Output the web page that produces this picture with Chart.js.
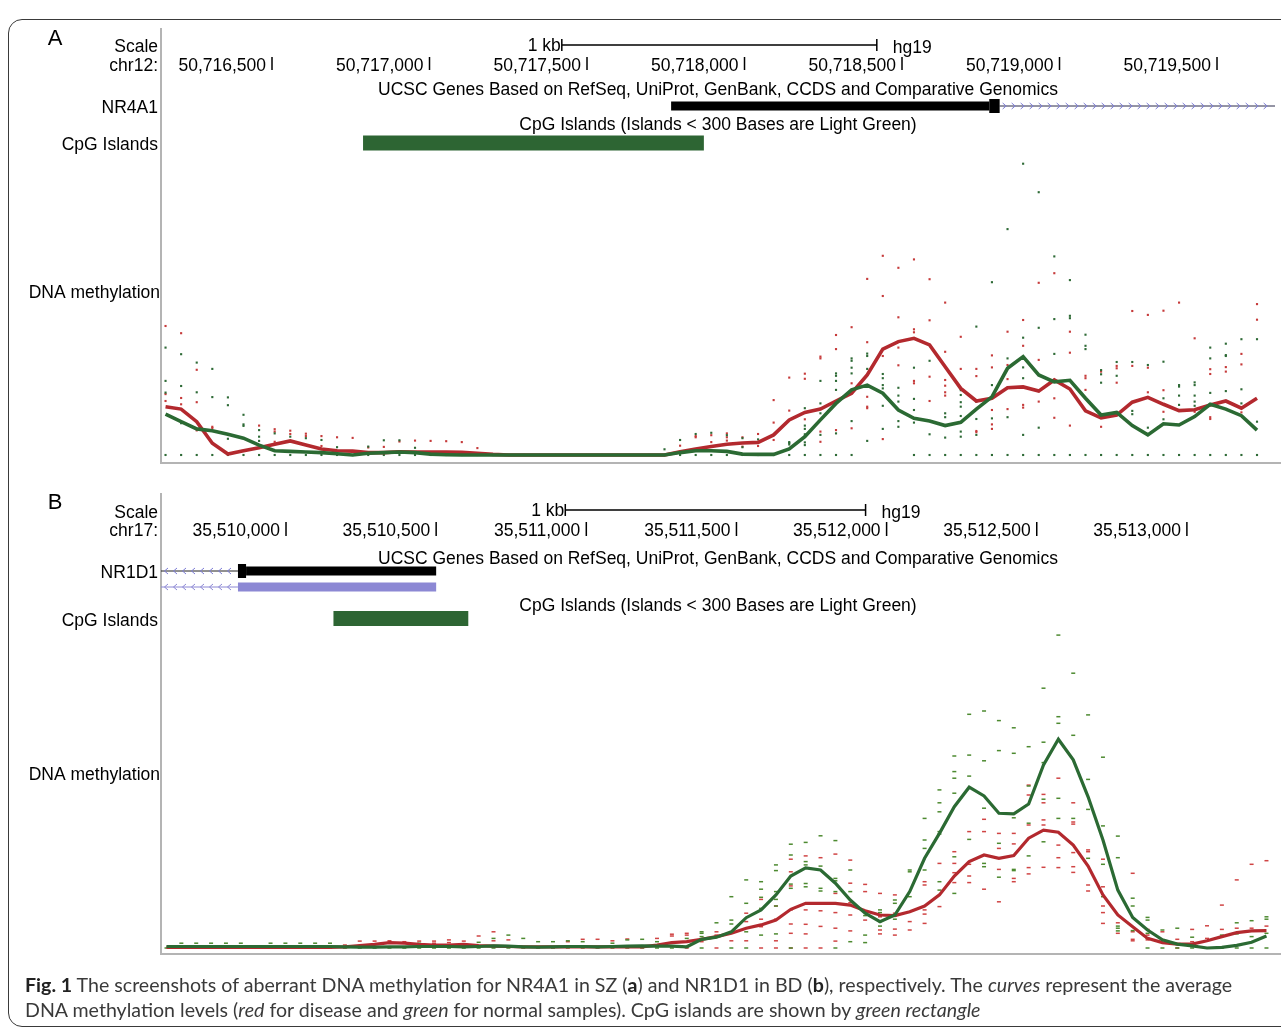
<!DOCTYPE html>
<html>
<head>
<meta charset="utf-8">
<script src="https://cdn.jsdelivr.net/npm/chart.js@4.4.1/dist/chart.umd.min.js"></script>
<style>
  html, body { margin: 0; padding: 0; background: #fff; }
  body { width: 1281px; height: 1029px; position: relative; overflow: hidden; }
  #frame { position: absolute; left: 8px; top: 19px; width: 1300px; height: 1008px;
           border: 1.5px solid #3a3a3a; border-radius: 14px; box-sizing: border-box; }
  canvas { position: absolute; left: 0; top: 0; }
  #caption { position: absolute; left: 25px; top: 972px; width: 1250px;
             font-family: Lato, "Liberation Sans", sans-serif; font-size: 19.6px;
             line-height: 25px; color: #3a3a3a; white-space: nowrap; }
  #caption b { color: #222; }
</style>
</head>
<body>
<div id="frame"></div>
<canvas id="panelA" width="1281" height="1029" style="width:1281px;height:1029px"></canvas>
<canvas id="panelB" width="1281" height="1029" style="width:1281px;height:1029px"></canvas>
<div id="caption"><b>Fig. 1</b> The screenshots of aberrant DNA methylation for NR4A1 in SZ (<b>a</b>) and NR1D1 in BD (<b>b</b>), respectively. The <i>curves</i> represent the average<br>DNA methylation levels (<i>red</i> for disease and <i>green</i> for normal samples). CpG islands are shown by <i>green rectangle</i></div>

<script>
// ---------------- Panel A: NR4A1, chr12 ----------------
const aWindow = [50716147.6, 50719684.1];          // visible genomic window (bp)
const aTickPositions = [50716500, 50717000, 50717500, 50718000, 50718500, 50719000, 50719500];
const aTickLabels = ['50,716,500', '50,717,000', '50,717,500', '50,718,000', '50,718,500', '50,719,000', '50,719,500'];
const aScaleBar = [50717420, 50718420];            // 1 kb
const aCpgIsland = [50716789, 50717871];
const aGeneNarrow = [50717767, 50718777];          // NR4A1 narrow exon block
const aGeneWide = [50718777, 50718810];            // NR4A1 full-height block
const aGeneIntron = [50718810, 50719760];          // continues beyond the window (+ strand)
const aBinStart = 50716162;                        // first methylation bin
const aBinStep = 49.5;

// mean methylation per bin: disease (red) and normal (green)
const aRedMean = [0.161,0.153,0.111,0.039,0.003,0.014,0.024,0.036,0.047,0.033,
  0.020,0.014,0.013,0.008,0.008,0.011,0.010,0.010,0.010,0.009,
  0.006,0.002,0,0,0,0,0,0,0,0,
  0,0,0,0.011,0.020,0.028,0.036,0.040,0.042,0.067,
  0.117,0.142,0.153,0.180,0.206,0.267,0.353,0.378,0.389,0.367,
  0.294,0.222,0.180,0.189,0.224,0.227,0.213,0.250,0.220,0.147,
  0.124,0.133,0.176,0.192,0.169,0.148,0.151,0.167,0.180,0.156,
  0.189];
const aGreenMean = [0.136,0.111,0.087,0.081,0.069,0.056,0.033,0.014,0.012,0.010,
  0.008,0.004,0,0.006,0.008,0.010,0.008,0.003,0.001,0,
  0,0,0,0,0,0,0,0,0,0,
  0,0,0,0.008,0.014,0.014,0.012,0.003,0.002,0.002,
  0.020,0.061,0.117,0.172,0.217,0.233,0.206,0.150,0.122,0.113,
  0.098,0.109,0.153,0.194,0.289,0.328,0.267,0.244,0.249,0.189,
  0.133,0.142,0.098,0.067,0.104,0.100,0.128,0.169,0.153,0.131,
  0.083];

// individual samples per bin
const aRedSamples = [
  [0.43,0.203,0.18],[0.406,0.19,0.169],[0.284,0.176,0.082],[0.094,0.09],[],[],[0.098],
  [0.086,0.078,0.044],[0.081,0.07,0.044],[0.071,0.063],
  [0.063,0.03],[0.059],[0.057],[0.025],[0.027],[0.045],[0.048],[0.047],[0.046],[0.043],
  [0.023],[],[],[],[],[],[],[],[],[],
  [],[],[],[0.031],[0.063,0.059],[0.066,0.043],[0.072,0.059,0.048],[0.059,0.028],[0.07,0.03],[0.183,0.108,0.05],
  [0.258,0.148],[0.271,0.254,0.119],[0.328,0.322,0.078,0.044],[0.40,0.353,0.083],[0.426,0.239,0.089],
  [0.587,0.376,0.194,0.161,0.156],[0.664,0.53,0.33,0.053],[0.624,0.459,0.358,0.299],
  [0.652,0.419,0.409,0.247,0.239],[0.586,0.449,0.261,0.18],
  [0.508,0.344,0.25,0.231,0.209,0.198],[0.394,0.287],[0.287,0.263,0.08,0.076],[0.332,0.292,0.15,0.102,0.087],
  [0.411,0.3,0.253,0.153],[0.45,0.364,0.167,0.158],[0.574,0.317,0.178],[0.606,0.25,0.189,0.124],
  [0.411,0.341,0.098],[0.264,0.256,0.217],
  [0.278,0.094],[0.297,0.289,0.241],[0.48,0.297],[0.467,0.291,0.209],[0.481,0.216,0.144],[0.508],
  [0.389,0.144],[0.286,0.27,0.126,0.12],[0.293,0.278],[0.337,0.302,0.142],
  [0.503,0.451]
];
const aGreenSamples = [
  [0.358,0.247,0.208,0],[0.336,0.23,0.106,0],[0.308,0.209,0],[0.287,0.193,0],[0.192,0.166,0.054,0],
  [0.134,0.102,0.097,0],[0.083,0.061,0.047,0],[0.072,0],[0.061,0],[0.056,0],
  [0.05,0],[0.026,0],[0],[0.028,0],[0.049,0],[0.049,0],[0.024,0],[0],[0],[0],
  [0],[0],[0],[0],[0],[0],[0],[0],[0],[0],
  [0],[0],[0.019,0],[0.05,0],[0.07,0],[0.074,0],[0.066,0],[0.056,0.026,0],[0.052,0],[0],
  [0.043,0.04,0.035,0],[0.156,0.098,0.087,0.069,0.042,0.033,0],[0.247,0.172,0.139,0.067,0],
  [0.272,0.264,0.247,0.217,0.072,0],[0.322,0.314,0.291,0.272,0.113,0],[0.338,0.33,0.287,0.047],
  [0.27,0.256,0.233,0.222,0.164,0.087],[0.224,0.198,0.178,0.113,0.094],[0.291,0.187,0.15,0.108,0],[0.314,0.069,0],
  [0.139,0.126,0.058,0],[0.216,0.2,0.176,0.161,0.13,0.078,0.061,0],[0.428,0.178,0.12,0.067,0],
  [0.576,0.233,0.122,0],[0.753,0.322,0.126,0],[0.971,0.391,0.292,0.256,0.067,0],[0.876,0.424,0.213,0.091,0],
  [0.662,0.453,0.337,0],[0.583,0.464,0.456,0],[0.401,0.364,0.353,0],
  [0.283,0.269,0.241,0],[0.31,0.264,0],[0.31,0.147,0.136,0],[0.3,0.091,0],[0.311,0.189,0.119,0],
  [0.233,0.228,0.198,0.167,0],[0.242,0.233,0.198,0.178,0.164,0],[0.358,0.322,0.207,0],
  [0.371,0.333,0.33,0.213,0],[0.386,0.219,0.172,0],
  [0.386,0.111,0]
];

// ---------------- Panel B: NR1D1, chr17 ----------------
const bWindow = [35509583.7, 35513293.4];
const bTickPositions = [35510000, 35510500, 35511000, 35511500, 35512000, 35512500, 35513000];
const bTickLabels = ['35,510,000', '35,510,500', '35,511,000', '35,511,500', '35,512,000', '35,512,500', '35,513,000'];
const bScaleBar = [35510930, 35511930];
const bCpgIsland = [35510158, 35510607];
const bGeneIntron = [35509400, 35509840];          // - strand, continues to the left
const bGeneWide = [35509840, 35509867];
const bGeneNarrow = [35509867, 35510500];
const bAltIntron = [35509400, 35509840];           // second transcript
const bAltBlock = [35509840, 35510500];
const bBinStart = 35509602;
const bBinStep = 49.5;

const bRedMean = [0.002,0.002,0.002,0.002,0.002,0.002,0.002,0.002,0.002,0.002,
  0.002,0.002,0.004,0.008,0.012,0.018,0.016,0.012,0.010,0.010,
  0.012,0.008,0.006,0.005,0.004,0.004,0.004,0.004,0.004,0.004,
  0.004,0.004,0.004,0.010,0.018,0.021,0.029,0.038,0.049,0.066,
  0.077,0.093,0.129,0.149,0.149,0.149,0.143,0.124,0.110,0.108,
  0.121,0.140,0.177,0.240,0.288,0.310,0.299,0.308,0.366,0.393,
  0.386,0.343,0.273,0.177,0.110,0.071,0.032,0.018,0.013,0.013,
  0.024,0.038,0.051,0.057,0.058];
const bGreenMean = [0.005,0.005,0.005,0.005,0.005,0.005,0.005,0.005,0.005,0.005,
  0.005,0.005,0.004,0.003,0.003,0.004,0.004,0.005,0.005,0.005,
  0.004,0.005,0.007,0.006,0.004,0.003,0.004,0.005,0.005,0.004,
  0.005,0.006,0.007,0.006,0.006,0.004,0.029,0.036,0.054,0.101,
  0.127,0.177,0.240,0.267,0.260,0.216,0.160,0.116,0.088,0.110,
  0.188,0.299,0.382,0.471,0.536,0.507,0.449,0.447,0.480,0.610,
  0.696,0.627,0.504,0.360,0.193,0.102,0.060,0.027,0.013,0.007,
  0.000,0.002,0.009,0.019,0.040];

const bRedSamples = [
  [],[],[],[],[],[],[],[],[],[],[],[],
  [0.01],[0.023],[0.023],[0.024,0.018],[0.021],[0.023],[0.023,0.016],[0.027,0.018],
  [0.023],[0.04],[0.054,0.024],[0.027],[],[],[],[0.021],[0.029],[0.029],
  [0.024],[0.03],[],[0.032],[0.046,0.04],[0.049,0.043,0],[0.021],[0.054,0.043,0],[0.054,0.024],[0.116,0.088,0.024],
  [0.162,0.096,0.071,0],[0.14,0.096,0.024,0],[0.296,0.254,0.207,0.127,0.08,0.049,0],[0.307,0.127,0.079,0.047,0],
  [0.301,0.124,0.072,0],[0.313,0.182,0.118,0.066,0.023],[0.293,0.216,0.151,0.11,0.057],[0.212,0.188,0.093],
  [0.182,0.104,0.06,0.047],[0.177,0.116,0.063,0.043],
  [0.088,0.06],[0.221,0.21,0.127,0.113,0.082],[0.282,0.138],[0.321,0.282,0.251,0.218],[0.388,0.279,0.24,0.218],
  [0.429,0.388,0.196],[0.382,0.332,0.262,0.154],[0.382,0.347,0.232,0.221],[0.543,0.51,0.41,0.268,0.247],
  [0.512,0.484,0.427,0.41,0.269],
  [0.566,0.343,0.301,0.268],[0.484,0.42,0.413,0.318,0.271,0.252],[0.327,0.321,0.21,0.19],
  [0.296,0.204,0.14,0.118,0.082],[0.084,0.049],[0.249,0.054,0.029,0.024],[0.062,0.043,0.027],
  [0.054,0.027],[0.029,0],[0.062,0.021],
  [0.074,0.032],[0.143,0.062],[0.227,0.066],[0.279,0.066],[0.291,0.073]
];
const bGreenSamples = [
  [0],[0.016,0],[0.016,0],[0.016,0],[0.016,0],[0.016,0],[0],[0.016,0],[0.016,0],[0.016,0],
  [0.016,0],[0.016,0],[0],[0],[0],[0],[0],[0.016,0],[0],[0],
  [0],[0.019,0],[0.032,0],[0.043,0],[0.032,0],[0.021,0],[0.021,0],[0.024,0],[0.021,0],[0],
  [0.016,0],[0.027,0],[0.029,0],[0.021,0],[0.018,0],[0.032],[0.054,0.049,0.038,0],[0.084,0.036],
  [0.171,0.093,0.08,0],[0.227,0.149,0.054,0],
  [0.221,0.196,0.169,0.132,0.043],[0.277,0.258,0.188,0.162,0.14,0.047],[0.346,0.31,0.213,0.199,0],
  [0.352,0.288,0.277,0.215,0.204],[0.374,0.273,0.199,0.19],[0.358,0.232,0.224,0.188,0],[0.26,0.188,0.021],
  [0.108,0.043,0.018],[0.127,0.118,0.088,0.073],[0.16,0.149,0.107,0.096],
  [0.26,0.254,0.171],[0.432,0.36,0.332,0.26],[0.527,0.484,0.454,0.388,0.38,0.221,0.193],
  [0.64,0.588,0.566,0.516,0.304,0.182],[0.779,0.643,0.573,0.362],[0.79,0.624,0.466,0.282,0.271],
  [0.758,0.658,0.349,0.236],[0.734,0.649,0.434,0.262,0.258],[0.671,0.54,0.416,0.307],[0.866,0.686,0.618,0.496,0.354],
  [1.043,0.771,0.749,0.499,0.432],[0.916,0.709,0.432],[0.777,0.562,0.462,0.299],[0.636,0.407,0.279,0.171],
  [0.373,0.301,0.073,0.066,0.057],[0.166,0.14,0.058],[0.102,0.093,0.049,0.032,0],[0.06,0],[0.066,0],[0.036,0],
  [0],[0.043,0],[0.084,0.047,0],[0.091,0.038,0],[0.104,0.096,0.049,0]
];

// ---------------- drawing helpers ----------------
const FONT = '17.5px "Liberation Sans", Arial, Helvetica, sans-serif';
const LETTER_FONT = '22px "Liberation Sans", Arial, Helvetica, sans-serif';
const RED_LINE = '#b3292e', GREEN_LINE = '#2b6a33';

function meanPoints(start, step, values) {
  return values.map((v, i) => ({ x: start + i * step, y: v }));
}
function samplePoints(start, step, bins) {
  const pts = [];
  bins.forEach((vals, i) => vals.forEach(v => pts.push({ x: start + i * step, y: v })));
  return pts;
}

function chevrons(ctx, x0, x1, y, dir, color) {
  ctx.save();
  ctx.strokeStyle = color; ctx.lineWidth = 1;
  for (let x = x0 + 5; x < x1 - 2; x += 9) {
    ctx.beginPath();
    ctx.moveTo(x - 2 * dir, y - 3); ctx.lineTo(x + 1.5 * dir, y); ctx.lineTo(x - 2 * dir, y + 3);
    ctx.stroke();
  }
  ctx.restore();
}

function makeTrackPlugin(t) {
  return {
    id: 'ucscTrack',
    beforeDatasetsDraw(chart) {
      const { ctx, chartArea: a } = chart;
      ctx.save();
      ctx.strokeStyle = '#b4b4b4'; ctx.lineWidth = 2;
      ctx.beginPath();
      ctx.moveTo(a.left, t.L.sepTop); ctx.lineTo(a.left, a.bottom + 1);
      ctx.moveTo(a.left, a.bottom); ctx.lineTo(chart.width, a.bottom);
      ctx.stroke();
      ctx.restore();
    },
    afterDraw(chart) {
      const { ctx, chartArea: a } = chart;
      const sx = chart.scales.x;
      const px = v => Math.max(a.left, Math.min(a.right, sx.getPixelForValue(v)));
      const L = t.L;
      ctx.save();
      ctx.fillStyle = '#000';
      ctx.textBaseline = 'middle';

      ctx.font = LETTER_FONT; ctx.textAlign = 'center';
      ctx.fillText(t.letter, 55, L.letterY + 2);

      ctx.font = FONT; ctx.textAlign = 'right';
      ctx.fillText('Scale', 158, L.scaleY + 1);
      ctx.fillText(t.chrom, 158, L.chrY + 1);
      ctx.fillText(t.gene, 158, L.geneLabelY + 1);
      ctx.fillText('CpG Islands', 158, L.cpgLabelY + 1);
      ctx.fillText('DNA methylation', 160, L.dnaLabelY + 1);

      // scale bar
      const b0 = px(t.scaleBar[0]), b1 = px(t.scaleBar[1]);
      ctx.fillText('1 kb', b0 - 1, L.barY + 1);
      ctx.textAlign = 'left';
      ctx.fillText('hg19', b1 + 16, L.barY + 3);
      ctx.strokeStyle = '#000'; ctx.lineWidth = 1.5;
      ctx.beginPath();
      ctx.moveTo(b0, L.barY); ctx.lineTo(b1, L.barY);
      ctx.moveTo(b0, L.barY - 6); ctx.lineTo(b0, L.barY + 6);
      ctx.moveTo(b1, L.barY - 6); ctx.lineTo(b1, L.barY + 6);
      ctx.stroke();

      // coordinate ruler
      ctx.textAlign = 'right';
      t.ticks.forEach((g, i) => {
        const x = px(g);
        ctx.fillText(t.tickLabels[i], x - 6, L.chrY + 1);
        ctx.beginPath(); ctx.moveTo(x, L.tickTop); ctx.lineTo(x, L.tickBot); ctx.stroke();
      });

      // track captions
      ctx.textAlign = 'center';
      const cx = (a.left + a.right) / 2;
      ctx.fillText('UCSC Genes Based on RefSeq, UniProt, GenBank, CCDS and Comparative Genomics', cx, L.ucscY + 1);
      ctx.fillText('CpG Islands (Islands < 300 Bases are Light Green)', cx, L.cpgCapY + 1);

      // gene model
      t.drawGene(ctx, px, L);

      // CpG island
      ctx.fillStyle = '#2d6533';
      const c0 = px(t.cpg[0]), c1 = px(t.cpg[1]);
      ctx.fillRect(c0, L.cpgY - 7.5, c1 - c0, 15);
      ctx.restore();
    }
  };
}

function makeChart(id, t) {
  return new Chart(document.getElementById(id), {
    type: 'scatter',
    data: {
      datasets: [
        { label: 'normal mean', data: meanPoints(t.binStart, t.binStep, t.greenMean), showLine: true,
          borderColor: GREEN_LINE, borderWidth: t.lineWidth, pointRadius: 0, tension: 0, order: 0 },
        { label: 'disease mean', data: meanPoints(t.binStart, t.binStep, t.redMean), showLine: true,
          borderColor: RED_LINE, borderWidth: t.lineWidth, pointRadius: 0, tension: 0, order: 1 },
        { label: 'normal samples', data: samplePoints(t.binStart, t.binStep, t.greenSamples),
          pointStyle: t.dotStyle, pointRadius: t.dotRadius, pointBorderWidth: t.dotBorder,
          backgroundColor: t.greenDot, borderColor: t.greenDot, order: 2 },
        { label: 'disease samples', data: samplePoints(t.binStart, t.binStep, t.redSamples),
          pointStyle: t.dotStyle, pointRadius: t.dotRadius, pointBorderWidth: t.dotBorder,
          backgroundColor: t.redDot, borderColor: t.redDot, order: 3 }
      ]
    },
    options: {
      responsive: false, animation: false, devicePixelRatio: 1,
      layout: { padding: t.padding },
      scales: {
        x: { type: 'linear', min: t.window[0], max: t.window[1], display: false },
        y: { type: 'linear', min: t.yRange[0], max: t.yRange[1], display: false }
      },
      plugins: { legend: { display: false }, tooltip: { enabled: false } },
      events: []
    },
    plugins: [makeTrackPlugin(t)]
  });
}

makeChart('panelA', {
  letter: 'A', chrom: 'chr12:', gene: 'NR4A1',
  window: aWindow, ticks: aTickPositions, tickLabels: aTickLabels, scaleBar: aScaleBar, cpg: aCpgIsland,
  binStart: aBinStart, binStep: aBinStep,
  redMean: aRedMean, greenMean: aGreenMean, redSamples: aRedSamples, greenSamples: aGreenSamples,
  yRange: [-0.0267, 1.0067], padding: { left: 161, right: 6, top: 153, bottom: 566 },
  lineWidth: 3.6, dotStyle: 'rect', dotRadius: 1.5, dotBorder: 0,
  redDot: '#c63a3a', greenDot: '#2e6a36',
  L: { letterY: 37, scaleY: 46, chrY: 65, tickTop: 57, tickBot: 70, barY: 45, ucscY: 89,
       geneLabelY: 107, geneY: 106, cpgCapY: 124, cpgY: 143, cpgLabelY: 144, dnaLabelY: 292, sepTop: 28 },
  drawGene(ctx, px, L) {
    const i0 = px(aGeneIntron[0]), i1 = px(aGeneIntron[1]);
    ctx.strokeStyle = '#2a2a4a'; ctx.lineWidth = 1;
    ctx.beginPath(); ctx.moveTo(i0, L.geneY); ctx.lineTo(i1, L.geneY); ctx.stroke();
    chevrons(ctx, i0, i1, L.geneY, 1, '#7c7cd6');
    ctx.fillStyle = '#000';
    ctx.fillRect(px(aGeneNarrow[0]), L.geneY - 4.5, px(aGeneNarrow[1]) - px(aGeneNarrow[0]), 9);
    ctx.fillRect(px(aGeneWide[0]), L.geneY - 7, px(aGeneWide[1]) - px(aGeneWide[0]), 14);
  }
});

makeChart('panelB', {
  letter: 'B', chrom: 'chr17:', gene: 'NR1D1',
  window: bWindow, ticks: bTickPositions, tickLabels: bTickLabels, scaleBar: bScaleBar, cpg: bCpgIsland,
  binStart: bBinStart, binStep: bBinStep,
  redMean: bRedMean, greenMean: bGreenMean, redSamples: bRedSamples, greenSamples: bGreenSamples,
  yRange: [-0.02, 1.06], padding: { left: 161, right: 6, top: 630, bottom: 75 },
  lineWidth: 3.2, dotStyle: 'line', dotRadius: 2, dotBorder: 1.5,
  redDot: '#d04444', greenDot: '#4d8a30',
  L: { letterY: 501, scaleY: 512, chrY: 530, tickTop: 522, tickBot: 536, barY: 510, ucscY: 558,
       geneLabelY: 572, geneY: 571, altY: 587, cpgCapY: 605, cpgY: 618.5, cpgLabelY: 620, dnaLabelY: 774, sepTop: 493 },
  drawGene(ctx, px, L) {
    const i0 = px(bGeneIntron[0]), i1 = px(bGeneIntron[1]);
    ctx.strokeStyle = '#222'; ctx.lineWidth = 1;
    ctx.beginPath(); ctx.moveTo(i0, L.geneY); ctx.lineTo(i1, L.geneY); ctx.stroke();
    chevrons(ctx, i0, i1, L.geneY, -1, '#7c7cd6');
    ctx.fillStyle = '#000';
    ctx.fillRect(px(bGeneNarrow[0]), L.geneY - 4.5, px(bGeneNarrow[1]) - px(bGeneNarrow[0]), 9);
    ctx.fillRect(px(bGeneWide[0]), L.geneY - 7, px(bGeneWide[1]) - px(bGeneWide[0]), 14);
    // second transcript
    const j0 = px(bAltIntron[0]), j1 = px(bAltIntron[1]);
    ctx.strokeStyle = '#8c88d4';
    ctx.beginPath(); ctx.moveTo(j0, L.altY); ctx.lineTo(j1, L.altY); ctx.stroke();
    chevrons(ctx, j0, j1, L.altY, -1, '#8c88d4');
    ctx.fillStyle = '#8c88d4';
    ctx.fillRect(px(bAltBlock[0]), L.altY - 4.5, px(bAltBlock[1]) - px(bAltBlock[0]), 9);
  }
});
</script>
</body>
</html>
